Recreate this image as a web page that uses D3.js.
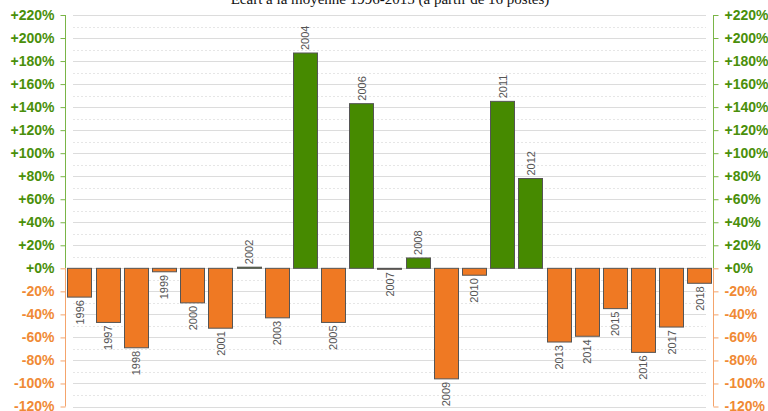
<!DOCTYPE html>
<html><head><meta charset="utf-8">
<script src="https://cdn.jsdelivr.net/npm/d3@7"></script>
<style>
html,body{margin:0;padding:0;background:#fff;overflow:hidden}
svg{display:block}
</style></head>
<body>
<svg id="chart" width="768" height="411"></svg>
<script>
const years = ["1996","1997","1998","1999","2000","2001","2002","2003","2004","2005","2006","2007","2008","2009","2010","2011","2012","2013","2014","2015","2016","2017","2018"];
const values = [-25,-47,-69,-3,-30,-52,1,-43,187,-47,143,-0.7,9,-96,-6,145,78,-64,-59,-35,-73,-51,-13];
const tickValues = [-120,-100,-80,-60,-40,-20,0,20,40,60,80,100,120,140,160,180,200,220];
const title = "Écart à la moyenne 1996-2015 (à partir de 16 postes)";

const GREEN = "#468a00", ORANGE = "#ef7923";
const GREEN_TXT = "#4a8f0a", ORANGE_TXT = "#f08a35";

const svg = d3.select("#chart");
const left = 65.5, right = 713.5;
const y = d3.scaleLinear().domain([-120, 220]).range([406.5, 15]);
const x = d3.scaleBand().domain(years).range([left, right]).paddingInner(0.145).paddingOuter(0.07);

// title
svg.append("text").attr("x", 390).attr("y", 3.5).attr("text-anchor", "middle")
  .attr("font-family", "Liberation Serif, serif").attr("font-size", 15).attr("fill", "#111").text(title);

// gridlines
const g = svg.append("g");
const minor = d3.range(-110, 220, 20);
g.selectAll("line.minor").data(minor).join("line")
  .attr("x1", 73).attr("x2", 706)
  .attr("y1", d => Math.round(y(d)) + 0.5).attr("y2", d => Math.round(y(d)) + 0.5)
  .attr("stroke", "#e6e6e6").attr("stroke-dasharray", "2,2");
g.selectAll("line.major").data(tickValues).join("line")
  .attr("x1", 73).attr("x2", 706)
  .attr("y1", d => Math.round(y(d)) + 0.5).attr("y2", d => Math.round(y(d)) + 0.5)
  .attr("stroke", "#dcdcdc");

// axes
const fmt = d => (d >= 0 ? "+" : "") + d + "%";
function drawAxis(axisGen, xpos) {
  const a = svg.append("g").attr("transform", `translate(${xpos},0)`)
    .call(axisGen.tickValues(tickValues).tickFormat(fmt).tickSize(5).tickSizeOuter(0).tickPadding(6));
  a.select(".domain").remove();
  a.selectAll(".tick line").attr("stroke", d => d > 0 ? "#7ab547" : "#f4a46c");
  a.selectAll(".tick text").attr("fill", d => d >= 0 ? GREEN_TXT : ORANGE_TXT)
    .attr("font-family", "Liberation Sans, Arial, sans-serif").attr("font-size", 14).attr("font-weight", "bold");
  a.append("line").attr("x1", 0).attr("x2", 0).attr("y1", y(220)).attr("y2", y(0)).attr("stroke", "#7ab547");
  a.append("line").attr("x1", 0).attr("x2", 0).attr("y1", y(0)).attr("y2", y(-120)).attr("stroke", "#f4a46c");
  return a;
}
drawAxis(d3.axisLeft(y), 65.5);
drawAxis(d3.axisRight(y), 713.5);

// bars
const data = years.map((yr, i) => ({yr, v: values[i]}));
svg.append("g").selectAll("rect").data(data).join("rect")
  .attr("x", d => Math.round(x(d.yr)) + 0.5)
  .attr("width", Math.round(x.bandwidth()))
  .attr("y", d => y(Math.max(0, d.v)))
  .attr("height", d => Math.max(1, Math.abs(y(d.v) - y(0))))
  .attr("fill", d => d.v >= 0 ? GREEN : ORANGE)
  .attr("stroke", "#555").attr("stroke-width", 1);

// labels
svg.append("g").selectAll("text").data(data).join("text")
  .attr("transform", d => {
    const cx = x(d.yr) + x.bandwidth() / 2 + 0.5;
    const yy = d.v >= 0 ? y(d.v) - 3 : y(d.v) + 3;
    return `translate(${cx},${yy}) rotate(-90)`;
  })
  .attr("text-anchor", d => d.v >= 0 ? "start" : "end")
  .attr("dy", "0.35em")
  .attr("font-family", "Liberation Sans, Arial, sans-serif").attr("font-size", 11)
  .attr("fill", "#555").text(d => d.yr);
</script>
</body></html>
